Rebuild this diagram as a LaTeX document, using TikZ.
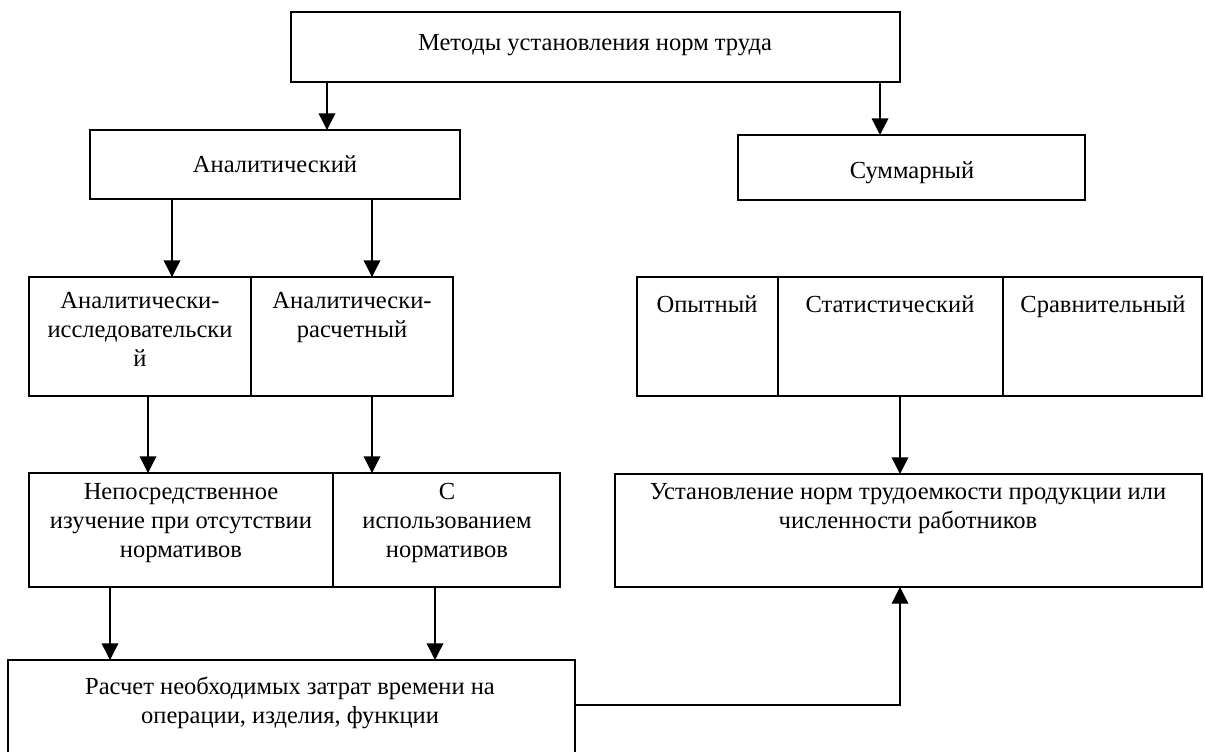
\documentclass[tikz,border=0pt]{standalone}
\usepackage{fontspec}
\setmainfont{Liberation Serif}
\usetikzlibrary{arrows.meta}
\newcommand\bx[5]{\node[box, minimum width={(#4-#2)*0.75pt}, minimum height={(#5-#3)*0.75pt}] (#1) at (#2,#3) {};}
\begin{document}
\begin{tikzpicture}[x=0.75pt,y=-0.75pt,
 box/.style={draw, line width=1.1pt, inner sep=0pt, outer sep=0pt, anchor=north west},
 lbl/.style={font=\fontsize{18.4}{21.75}\selectfont, align=center, anchor=base, inner sep=0pt},
 arr/.style={line width=1pt, -{Triangle[length=12.5pt,width=12.5pt]}}]
\useasboundingbox (0,0) rectangle (1205,751);
\clip (0,0) rectangle (1205,751);
% boxes
\bx{top}{291}{12}{900}{82}
\bx{anal}{90}{130}{460}{199}
\bx{summ}{738}{135}{1085}{200}
\bx{ai}{29}{277}{251}{396}
\bx{ar}{251}{277}{453}{396}
\bx{op}{637}{277}{778}{396}
\bx{st}{778}{277}{1003}{396}
\bx{sr}{1003}{277}{1202}{396}
\bx{np}{29}{473}{333}{587}
\bx{si}{333}{473}{560}{587}
\bx{us}{615}{474}{1202}{587}
\bx{ra}{8}{660}{575}{770}
% texts (anchor = baseline of the last line)
\node[lbl] (ttop) at (595,50) {Методы установления норм труда};
\node[lbl] (tanal) at (275,172) {Аналитический};
\node[lbl] (tsumm) at (912,178) {Суммарный};
\node[lbl] (tai) at (140,366) {Аналитически-\\исследовательски\\й};
\node[lbl] (tar) at (352,337) {Аналитически-\\расчетный};
\node[lbl] (top1) at (707,312) {Опытный};
\node[lbl] (tst) at (890,312) {Статистический};
\node[lbl] (tsr) at (1103,312) {Сравнительный};
\node[lbl] (tnp) at (181,557) {Непосредственное\\изучение при отсутствии\\нормативов};
\node[lbl] (tsi) at (447,557) {С\\использованием\\нормативов};
\node[lbl] (tus) at (908,528) {Установление норм трудоемкости продукции или\\численности работников};
\node[lbl] (tra) at (290,723) {Расчет необходимых затрат времени на\\операции, изделия, функции};
% connector x positions
\coordinate (x1) at (327,0);
\coordinate (x2) at (880,0);
\coordinate (x3) at (172,0);
\coordinate (x4) at (372,0);
\coordinate (x5) at (148,0);
\coordinate (x6) at (110,0);
\coordinate (x7) at (435,0);
\coordinate (x8) at (900,0);
\coordinate (y1) at (0,705);
% arrows
\draw[arr] (top.south -| x1) -- (anal.north -| x1);
\draw[arr] (top.south -| x2) -- (summ.north -| x2);
\draw[arr] (anal.south -| x3) -- (ai.north -| x3);
\draw[arr] (anal.south -| x4) -- (ar.north -| x4);
\draw[arr] (ai.south -| x5) -- (np.north -| x5);
\draw[arr] (ar.south -| x4) -- (si.north -| x4);
\draw[arr] (st.south -| x8) -- (us.north -| x8);
\draw[arr] (np.south -| x6) -- (ra.north -| x6);
\draw[arr] (si.south -| x7) -- (ra.north -| x7);
\draw[arr] (ra.east |- y1) -- (x8 |- y1) -- (us.south -| x8);
\end{tikzpicture}
\end{document}
